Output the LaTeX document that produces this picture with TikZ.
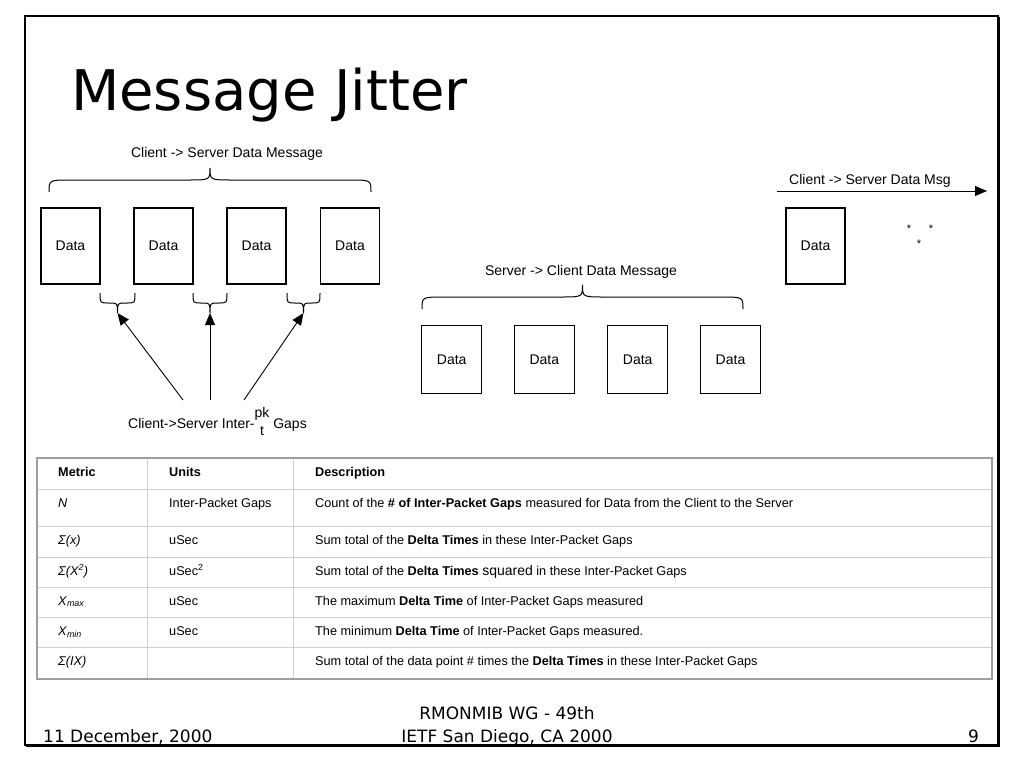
\documentclass[tikz,border=0pt]{standalone}
\usepackage{fontspec}
\setmainfont{Liberation Sans}
\newfontfamily\titlefont{DejaVu Sans}
\usetikzlibrary{arrows.meta}
\definecolor{gridgray}{RGB}{208,208,208}
\definecolor{edgegray}{RGB}{158,158,158}

% name, left x, right x, end y, tip y, curve
\newcommand{\drawbrace}[6]{%
  \pgfmathsetmacro{\bxc}{(#2+#3)/2}
  \pgfmathsetmacro{\bym}{(#4+#5)/2}
  \draw[line width=1pt] (#2,#4) .. controls (#2,\bym) .. (#2+#6,\bym) -- (\bxc-#6,\bym)
    .. controls (\bxc,\bym) .. (\bxc,#5) .. controls (\bxc,\bym) .. (\bxc+#6,\bym)
    -- (#3-#6,\bym) .. controls (#3,\bym) .. (#3,#4);
  \coordinate (#1) at (\bxc,#5);
}

\begin{document}
\begin{tikzpicture}[x=1pt, y=-1pt,
    databox/.style={draw, line width=1.2pt, minimum width=59pt, minimum height=76pt, inner sep=0pt, font=\fontsize{14}{16}\selectfont},
    lowbox/.style={databox, minimum width=60pt, minimum height=68pt},
    caption/.style={inner sep=0pt, font=\fontsize{14}{16}\selectfont},
    cell/.style={anchor=base west, inner sep=0pt, font=\fontsize{12.7}{15}\selectfont},
    footer/.style={inner sep=0pt, font=\titlefont\fontsize{17}{20}\selectfont},
    gaparrow/.style={-{Triangle[length=12pt,width=10pt]}, line width=0.9pt}]
    \useasboundingbox (0,0) rectangle (1024,768);

    % slide frame
    \draw[line width=2pt] (25,16) rectangle (998,745);
    \draw[line width=3pt] (998.5,17) -- (998.5,745.5) -- (26,745.5);

    \node[anchor=base west, inner sep=0pt, font=\titlefont\fontsize{56}{60}\selectfont] (title) at (71,110) {Message Jitter};

    % client -> server
    \node[caption] (csLabel) at (227,154) {Client -> Server Data Message};
    \drawbrace{csTip}{49}{371}{192}{168}{22}
    \node[databox] (cs1) at (70.5,246) {Data};
    \node[databox] (cs2) at (163.5,246) {Data};
    \node[databox] (cs3) at (256.5,246) {Data};
    \node[databox] (cs4) at (350,246) {Data};

    % gaps
    \drawbrace{gapA}{100}{135}{293}{313}{8}
    \drawbrace{gapB}{193}{227}{293}{313}{8}
    \drawbrace{gapC}{287}{320}{293}{313}{8}
    \node[caption, anchor=base west] (gapLabel) at (128,428) {Client->Server Inter-\raisebox{-7pt}{\shortstack{pk\\[3pt]t}} Gaps};
    \coordinate (fromA) at (183,400);
    \coordinate (fromB) at (210,400);
    \coordinate (fromC) at (244,400);
    \draw[gaparrow] (fromA) -- (gapA);
    \draw[gaparrow] (fromB) -- (gapB);
    \draw[gaparrow] (fromC) -- (gapC);

    % server -> client
    \node[caption] (scLabel) at (581,272) {Server -> Client Data Message};
    \drawbrace{scTip}{422}{743}{309}{285}{22}
    \node[lowbox] (sc1) at (451.7,359.5) {Data};
    \node[lowbox] (sc2) at (544.3,359.5) {Data};
    \node[lowbox] (sc3) at (637.7,359.5) {Data};
    \node[lowbox] (sc4) at (730.5,359.5) {Data};

    % single message
    \coordinate (msgStart) at (777,191);
    \coordinate (msgEnd) at (987,191);
    \draw[gaparrow] (msgStart) -- (msgEnd);
    \node[caption, anchor=base west] (msgLabel) at (789,184) {Client -> Server Data Msg};
    \node[databox] (msg1) at (815.5,246) {Data};
    \node[caption, anchor=base, font=\fontsize{11}{12}\selectfont] (starA) at (909,232) {*};
    \node[caption, anchor=base, font=\fontsize{11}{12}\selectfont] (starB) at (931,232) {*};
    \node[caption, anchor=base, font=\fontsize{11}{12}\selectfont] (starC) at (919,247) {*};

    % metrics table
    \draw[gridgray, line width=0.8pt] (37,489) -- (992,489);
    \draw[gridgray, line width=0.8pt] (37,526) -- (992,526);
    \draw[gridgray, line width=0.8pt] (37,557) -- (992,557);
    \draw[gridgray, line width=0.8pt] (37,587) -- (992,587);
    \draw[gridgray, line width=0.8pt] (37,617) -- (992,617);
    \draw[gridgray, line width=0.8pt] (37,647) -- (992,647);
    \draw[gridgray, line width=0.8pt] (147,458) -- (147,679);
    \draw[gridgray, line width=0.8pt] (293,458) -- (293,679);
    \draw[edgegray, line width=1.2pt] (37,458) rectangle (992,679);

    \node[cell] (m0) at (58,476) {\textbf{Metric}};
    \node[cell] (u0) at (169,476) {\textbf{Units}};
    \node[cell] (d0) at (315,476) {\textbf{Description}};

    \node[cell] (m1) at (58,507) {\textit{N}};
    \node[cell] (u1) at (169,507) {Inter-Packet Gaps};
    \node[cell] (d1) at (315,507) {Count of the \textbf{\# of Inter-Packet Gaps} measured for Data from the Client to the Server};

    \node[cell] (m2) at (58,544) {\textit{Σ(x)}};
    \node[cell] (u2) at (169,544) {uSec};
    \node[cell] (d2) at (315,544) {Sum total of the \textbf{Delta Times} in these Inter-Packet Gaps};

    \node[cell] (m3) at (58,575) {\textit{Σ(X\textsuperscript{2})}};
    \node[cell] (u3) at (169,575) {uSec\textsuperscript{2}};
    \node[cell] (d3) at (315,575) {Sum total of the \textbf{Delta Times} {\fontsize{14}{15}\selectfont squared} in these Inter-Packet Gaps};

    \node[cell] (m4) at (58,605) {\textit{X}\textsubscript{\textit{max}}};
    \node[cell] (u4) at (169,605) {uSec};
    \node[cell] (d4) at (315,605) {The maximum \textbf{Delta Time} of Inter-Packet Gaps measured};

    \node[cell] (m5) at (58,635) {\textit{X}\textsubscript{\textit{min}}};
    \node[cell] (u5) at (169,635) {uSec};
    \node[cell] (d5) at (315,635) {The minimum \textbf{Delta Time} of Inter-Packet Gaps measured.};

    \node[cell] (m6) at (58,665) {\textit{Σ(IX)}};
    \node[cell] (d6) at (315,665) {Sum total of the data point \# times the \textbf{Delta Times} in these Inter-Packet Gaps};

    % footer
    \node[footer, anchor=base west] (date) at (43,742) {11 December, 2000};
    \node[footer, anchor=base] (meeting) at (507,719) {RMONMIB WG - 49th};
    \node[footer, anchor=base] (venue) at (507,742) {IETF San Diego, CA 2000};
    \node[footer, anchor=base east] (page) at (979,742) {9};
\end{tikzpicture}
\end{document}
